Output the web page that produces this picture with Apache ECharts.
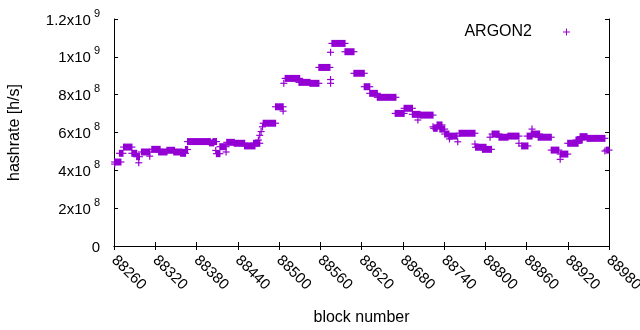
<!DOCTYPE html>
<html>
<head>
<meta charset="utf-8">
<script src="https://cdn.jsdelivr.net/npm/echarts@6/dist/echarts.min.js"></script>
<style>
  html, body { margin: 0; padding: 0; background: #fff; }
  #main { width: 640px; height: 330px; }
</style>
</head>
<body>
<div id="main"></div>
<script>
// runs of blocks that share (about) the same hashrate
// a run with start == end is a single block
const runStart = [
  88261, 88261, 88268, 88274, 88286, 88293, 88296, 88300, 88312, 88315,
  88325, 88337, 88347, 88357, 88364, 88367, 88399, 88404, 88408, 88409,
  88414, 88423, 88424, 88435, 88450, 88463, 88470, 88472, 88474, 88476,
  88477, 88495, 88506, 88507, 88509, 88529, 88545, 88558, 88575, 88575,
  88575, 88577, 88596, 88609, 88624, 88632, 88643, 88669, 88682, 88694,
  88702, 88705, 88724, 88725, 88730, 88734, 88741, 88747, 88748, 88760,
  88762, 88785, 88786, 88796, 88807, 88810, 88820, 88833, 88849, 88853,
  88861, 88867, 88868, 88877, 88896, 88909, 88909, 88920, 88932, 88938,
  88948, 88974, 88976
];
const runEnd = [
  88261, 88270, 88273, 88286, 88293, 88297, 88296, 88312, 88312, 88327,
  88337, 88348, 88359, 88364, 88367, 88400, 88405, 88409, 88408, 88414,
  88423, 88423, 88435, 88450, 88465, 88472, 88470, 88472, 88474, 88476,
  88495, 88506, 88506, 88507, 88530, 88545, 88558, 88574, 88575, 88575,
  88575, 88596, 88609, 88624, 88632, 88643, 88670, 88682, 88694, 88705,
  88702, 88724, 88724, 88730, 88737, 88741, 88747, 88759, 88748, 88760,
  88785, 88785, 88801, 88809, 88807, 88820, 88833, 88849, 88849, 88862,
  88868, 88879, 88868, 88896, 88907, 88909, 88920, 88935, 88941, 88948,
  88974, 88974, 88980
];
const runRate = [
  433e6, 444e6, 490e6, 523e6, 490e6, 472e6, 440e6, 497e6, 475e6, 511e6,
  497e6, 506e6, 497e6, 490e6, 510e6, 552e6, 545e6, 552e6, 505e6, 488e6,
  525e6, 497e6, 548e6, 543e6, 529e6, 543e6, 560e6, 585e6, 605e6, 630e6,
  649e6, 736e6, 713e6, 860e6, 886e6, 865e6, 860e6, 944e6, 880e6, 860e6,
  1024e6, 1071e6, 1027e6, 913e6, 842e6, 807e6, 786e6, 701e6, 728e6, 696e6,
  666e6, 692e6, 630e6, 622e6, 640e6, 618e6, 592e6, 581e6, 566e6, 551e6,
  596e6, 539e6, 522e6, 511e6, 575e6, 592e6, 575e6, 581e6, 543e6, 529e6,
  581e6, 592e6, 618e6, 575e6, 507e6, 458e6, 486e6, 543e6, 560e6, 578e6,
  569e6, 502e6, 507e6
];

const seriesName = 'ARGON2';
const xTickStep = 60;
const yTickStep = 2e8;

const font = 'Liberation Sans';
const purple = '#9400d3';

function sciLabel(v) {
  if (v === 0) return '{m|0}';
  const e = Math.floor(Math.log10(v) + 1e-9);
  const m = +(v / Math.pow(10, e)).toFixed(2);
  return '{m|' + m + 'x10}{e|' + e + '}';
}

const runs = runStart.map((s, i) => [s, runEnd[i], runRate[i]]);

const chart = echarts.init(document.getElementById('main'));

const axisLine = { show: true, lineStyle: { color: '#000', width: 1 } };
const tick = { show: true, inside: true, length: 4, lineStyle: { color: '#000' } };

chart.setOption({
  animation: false,
  backgroundColor: '#fff',
  grid: { left: 114, right: 31, top: 19, bottom: 84, outerBoundsMode: 'none', containLabel: false },
  legend: {
    data: [{ name: seriesName, icon: 'path://M3,0h1v3h3v1h-3v3h-1v-3h-3v-1h3z' }],
    right: 65,
    top: 19,
    align: 'right',
    itemWidth: 7,
    itemHeight: 7,
    textStyle: { fontFamily: font, fontSize: 16, color: '#000', padding: [0, 26, 0, 0] }
  },
  xAxis: [
    {
      type: 'value',
      min: 88260,
      max: 88980,
      interval: xTickStep,
      name: 'block number',
      nameLocation: 'middle',
      nameGap: 64,
      nameTextStyle: { fontFamily: font, fontSize: 16, color: '#000' },
      axisLine: axisLine,
      axisTick: tick,
      splitLine: { show: false },
      axisLabel: {
        rotate: -45,
        margin: 12,
        formatter: v => String(v),
        fontFamily: font,
        fontSize: 15,
        color: '#000'
      }
    },
    {
      type: 'value',
      position: 'top',
      min: 88260,
      max: 88980,
      interval: xTickStep,
      axisLine: axisLine,
      axisTick: tick,
      axisLabel: { show: false },
      splitLine: { show: false }
    }
  ],
  yAxis: [
    {
      type: 'value',
      min: 0,
      max: 1.2e9,
      interval: yTickStep,
      name: 'hashrate [h/s]',
      nameLocation: 'middle',
      nameGap: 91,
      nameTextStyle: { fontFamily: font, fontSize: 16, color: '#000' },
      axisLine: axisLine,
      axisTick: tick,
      splitLine: { show: false },
      axisLabel: {
        margin: 14,
        formatter: sciLabel,
        rich: {
          m: { fontFamily: font, fontSize: 15, color: '#000', lineHeight: 18, verticalAlign: 'bottom' },
          e: { fontFamily: font, fontSize: 11, color: '#000', lineHeight: 11, verticalAlign: 'bottom', padding: [0, 0, 9, 3] }
        }
      }
    },
    {
      type: 'value',
      position: 'right',
      min: 0,
      max: 1.2e9,
      interval: yTickStep,
      axisLine: axisLine,
      axisTick: tick,
      axisLabel: { show: false },
      splitLine: { show: false }
    }
  ],
  series: [
    {
      name: seriesName,
      type: 'custom',
      xAxisIndex: 0,
      yAxisIndex: 0,
      itemStyle: { color: purple },
      encode: { x: [0, 1], y: 2 },
      data: runs,
      renderItem: function (params, api) {
        const a = api.coord([api.value(0), api.value(2)]);
        const b = api.coord([api.value(1), api.value(2)]);
        const c = api.visual('color');
        return {
          type: 'group',
          children: [
            {
              type: 'rect',
              shape: { x: a[0] - 0.6, y: a[1] - 3.5, width: b[0] - a[0] + 1.2, height: 7 },
              style: { fill: c }
            },
            {
              type: 'line',
              shape: { x1: a[0] - 3.5, y1: a[1], x2: b[0] + 3.5, y2: a[1] },
              style: { stroke: c, lineWidth: 1.2 }
            }
          ]
        };
      }
    }
  ]
});
</script>
</body>
</html>
